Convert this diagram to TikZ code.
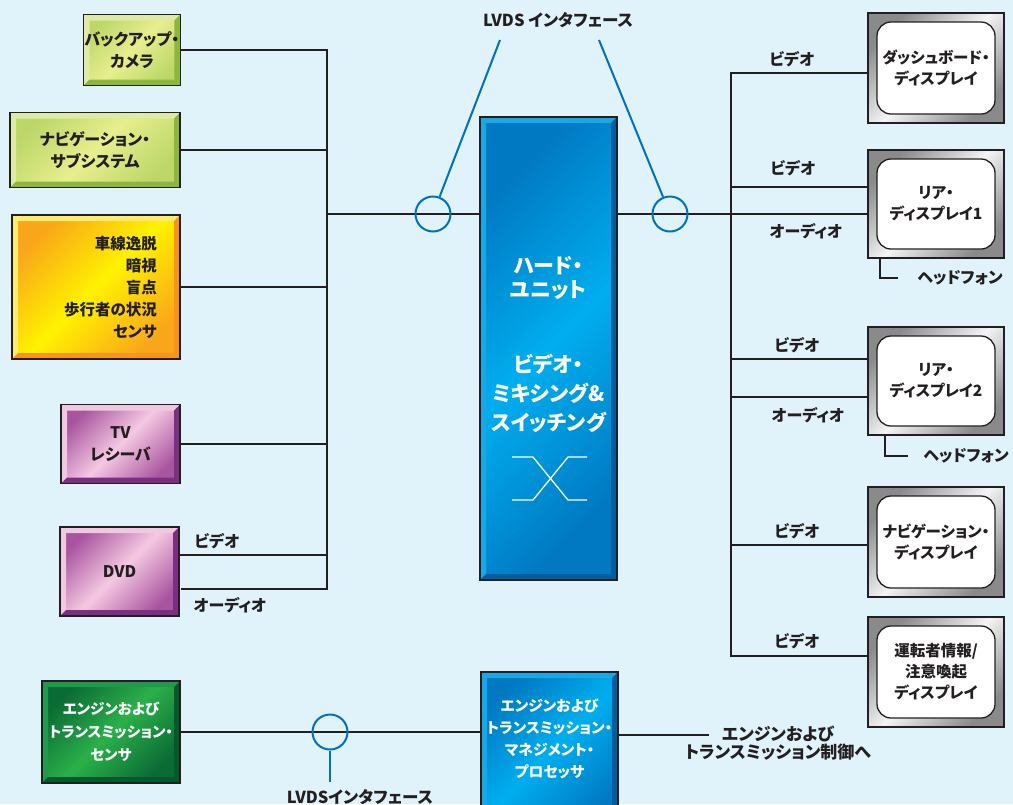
\documentclass[tikz,border=0pt]{standalone}
\usepackage{fontspec}
\setmainfont{Noto Sans CJK JP}[RawFeature=+palt]
\usetikzlibrary{calc}
\definecolor{bg}{HTML}{E0F2FA}
\definecolor{ink}{HTML}{231F20}
\definecolor{lvds}{HTML}{0072BC}
\definecolor{gyO}{HTML}{BCD768}\definecolor{gyM}{HTML}{E8EE8E}\definecolor{gyL}{HTML}{DDEBA6}\definecolor{gyD}{HTML}{8CB63C}
\definecolor{yeO}{HTML}{F9A61A}\definecolor{yeM}{HTML}{FFF200}\definecolor{yeL}{HTML}{FFEB6E}\definecolor{yeD}{HTML}{F7941D}
\definecolor{puO}{HTML}{A8559F}\definecolor{puM}{HTML}{F5C8E2}\definecolor{puL}{HTML}{F0C8E0}\definecolor{puD}{HTML}{7A2F80}
\definecolor{blO}{HTML}{0079C2}\definecolor{blM}{HTML}{00AEEF}\definecolor{blL}{HTML}{18A8E8}\definecolor{blD}{HTML}{005D9E}
\definecolor{grO}{HTML}{0B6B35}\definecolor{grM}{HTML}{2BB04A}\definecolor{grL}{HTML}{1E9A48}\definecolor{grD}{HTML}{005A2C}
\definecolor{dgO}{HTML}{8A8A8A}\definecolor{dgM}{HTML}{F4F4F4}
\begin{document}
\begin{tikzpicture}[x=1pt,y=-1pt,
  every node/.style={inner sep=1pt, text=ink},
  lbl/.style={font=\bfseries\fontsize{16}{18}\selectfont},
  conn/.style={draw=ink, line width=1.5pt},
  thinconn/.style={draw=ink, line width=1.2pt},
  lvdsline/.style={draw=lvds, line width=2pt},
  ring/.style={circle, draw=lvds, line width=2pt, minimum size=35pt, inner sep=0pt},
  bevel/.style n args={4}{draw=ink, line width=1.2pt, left color=#1, right color=#1, middle color=#2, shading angle=45,
    align=center, font=\bfseries\fontsize{16}{22}\selectfont,
    path picture={
      \coordinate (pNW) at (path picture bounding box.north west);
      \coordinate (pNE) at (path picture bounding box.north east);
      \coordinate (pSW) at (path picture bounding box.south west);
      \coordinate (pSE) at (path picture bounding box.south east);
      \fill[#3] (pNW) -- (pNE) -- ($(pNE)+(-6,6)$) -- ($(pNW)+(6,6)$) -- ($(pSW)+(6,-6)$) -- (pSW) -- cycle;
      \fill[#4] (pNE) -- (pSE) -- (pSW) -- ($(pSW)+(6,-6)$) -- ($(pSE)+(-6,-6)$) -- ($(pNE)+(-6,6)$) -- cycle;
    }},
  gybox/.style={bevel={gyO}{gyM}{gyL}{gyD}},
  yebox/.style={bevel={yeO}{yeM}{yeL}{yeD}},
  pubox/.style={bevel={puO}{puM}{puL}{puD}},
  blbox/.style={bevel={blO}{blM}{blL}{blD}},
  grbox/.style={bevel={grO}{grM}{grL}{grD}},
  display/.style={draw=ink, line width=1.5pt, left color=dgO, right color=dgO, middle color=dgM, shading angle=45,
    minimum width=136pt, align=center, font=\bfseries\fontsize{15.5}{21}\selectfont,
    path picture={
      \filldraw[fill=white, draw=ink, line width=1.3pt, rounded corners=14pt]
        ($(path picture bounding box.north west)+(9,9)$) rectangle ($(path picture bounding box.south east)+(-9,-9)$);
    }}
]
\fill[bg] (0,0) rectangle (1013,804);
\useasboundingbox (0,0) rectangle (1013,804);

% ---------- left boxes ----------
\node[gybox, minimum width=96pt, minimum height=71pt] (cam) at (132,50) {バックアップ・\\カメラ};
\node[gybox, minimum width=170pt, minimum height=75pt] (navi) at (95,150) {ナビゲーション・\\サブシステム};
\node[yebox, minimum width=168pt, minimum height=144pt] (sens) at (96,287) {};
\node[align=right, font=\bfseries\fontsize{15.5}{22}\selectfont] (sensT) at (110.5,287) {車線逸脱\\暗視\\盲点\\歩行者の状況\\センサ};
\node[pubox, minimum width=119pt, minimum height=79pt] (tv) at (120.5,444) {TV\\レシーバ};
\node[pubox, minimum width=119pt, minimum height=89pt] (dvd) at (119.5,571.5) {DVD};
\node[grbox, minimum width=138pt, minimum height=102pt, text=white, font=\bfseries\fontsize{14.6}{23}\selectfont] (eng) at (111,732) {エンジンおよび\\トランスミッション・\\センサ};

% ---------- centre units ----------
\node[blbox, minimum width=137pt, minimum height=463pt] (hu) at (548.5,348.5) {};
\node[text=white, align=center, font=\bfseries\fontsize{21}{24}\selectfont] (huT1) at (548.5,278) {ハード・\\ユニット};
\node[text=white, align=center, font=\bfseries\fontsize{21}{29}\selectfont] (huT2) at (548.5,393) {ビデオ・\\ミキシング\&\\スイッチング};
\draw[white, line width=1.3pt] (512,457) -- (533,457) -- (568,500) -- (587,500);
\draw[white, line width=1.3pt] (512,500) -- (533,500) -- (568,457) -- (587,457);

\node[blbox, minimum width=137pt, minimum height=160pt] (proc) at (549.5,752) {};
\node[text=white, align=center, font=\bfseries\fontsize{14.8}{22}\selectfont] (procT) at (549.5,738.5) {エンジンおよび\\トランスミッション・\\マネジメント・\\プロセッサ};

% ---------- displays ----------
\node[display, minimum height=110pt] (d1) at (936,68) {ダッシュボード・\\ディスプレイ};
\node[display, minimum height=108pt] (d2) at (936,204) {リア・\\ディスプレイ1};
\node[display, minimum height=108pt] (d3) at (936,381) {リア・\\ディスプレイ2};
\node[display, minimum height=110pt] (d4) at (936,542) {ナビゲーション・\\ディスプレイ};
\node[display, minimum height=110pt] (d5) at (936,672) {運転者情報/\\注意喚起\\ディスプレイ};

% ---------- left bus ----------
\coordinate (lbT) at (327,50);
\coordinate (lbB) at (327,589);
\coordinate (lbM) at (327,214);
\coordinate (dvdV) at (327,555);
\draw[conn] (cam.east |- lbT) -- (lbT) -- (lbB) -- ([xshift=1pt]dvd.east |- lbB);
\draw[conn] (navi.east) -- (navi.east -| lbT);
\draw[conn] (sens.east) -- (sens.east -| lbT);
\draw[conn] (tv.east) -- (tv.east -| lbT);
\draw[conn] (dvdV -| dvd.east) -- (dvdV);
\draw[conn] (lbM) -- (hu.west |- lbM);

% ---------- right bus ----------
\coordinate (rbT) at (731,73);
\coordinate (rbB) at (731,656);
\coordinate (r2v) at (731,187);
\coordinate (r3v) at (731,359);
\coordinate (r3a) at (731,397);
\coordinate (r4v) at (731,545);
\draw[conn] (d1.west |- rbT) -- (rbT) -- (rbB) -- (d5.west |- rbB);
\draw[conn] (r2v) -- (r2v -| d2.west);
\draw[conn] (hu.east |- lbM) -- (d2.west |- lbM);
\draw[conn] (r3v) -- (r3v -| d3.west);
\draw[conn] (r3a) -- (r3a -| d3.west);
\draw[conn] (r4v) -- (r4v -| d4.west);

% headphones
\coordinate (hp1) at (880,278);
\coordinate (hp1e) at (898,278);
\coordinate (hp2) at (885,456);
\coordinate (hp2e) at (908,456);
\draw[thinconn] (hp1 |- d2.south) -- (hp1) -- (hp1e);
\draw[thinconn] (hp2 |- d3.south) -- (hp2) -- (hp2e);
\node[lbl] (hpT1) at (960,278) {ヘッドフォン};
\node[lbl] (hpT2) at (966,456) {ヘッドフォン};

% ---------- bottom ----------
\draw[conn] (eng.east) -- (eng.east -| proc.west);
\coordinate (pc) at (709,735);
\draw[thinconn] (proc.east |- pc) -- (pc);
\node[align=center, font=\bfseries\fontsize{17}{18}\selectfont] (ctl) at (778,743) {エンジンおよび\\トランスミッション制御へ};

% ---------- LVDS ----------
\node[ring] (c1) at (433,214) {};
\node[ring] (c2) at (670,214) {};
\node[ring] (c3) at (330,732) {};
\coordinate (lv1) at (500,40);
\coordinate (lv2) at (599,40);
\coordinate (lv3) at (330,782);
\draw[lvdsline] (lv1) -- (c1);
\draw[lvdsline] (lv2) -- (c2);
\draw[lvdsline] (c3.south) -- (lv3);
\node[font=\bfseries\fontsize{16.5}{18}\selectfont] (lvT) at (558,20) {LVDS インタフェース};
\node[font=\bfseries\fontsize{16.5}{18}\selectfont] (lvB) at (360,797) {LVDSインタフェース};

% ---------- signal labels ----------
\node[lbl] (v1) at (792,59) {ビデオ};
\node[lbl] (v2) at (793,168) {ビデオ};
\node[lbl] (a2) at (806,231) {オーディオ};
\node[lbl] (v3) at (797,345) {ビデオ};
\node[lbl] (a3) at (808,415) {オーディオ};
\node[lbl] (v4) at (797,531) {ビデオ};
\node[lbl] (v5) at (797,641) {ビデオ};
\node[lbl] (dv) at (217,541) {ビデオ};
\node[lbl] (da) at (230,605) {オーディオ};
\end{tikzpicture}
\end{document}
